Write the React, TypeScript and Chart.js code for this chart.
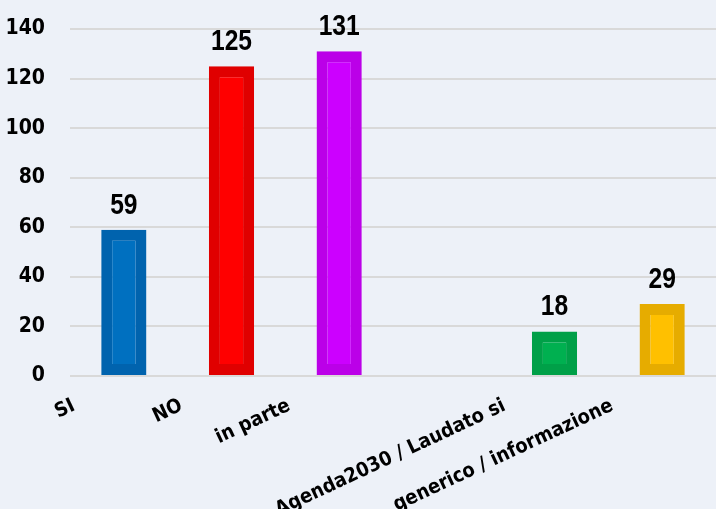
import React, { useEffect, useRef } from "react";
import { Chart, registerables } from "chart.js";

Chart.register(...registerables);

const categories = ["SI", "NO", "in parte", "", "Agenda2030 / Laudato si", "generico / informazione"];
const values: (number | null)[] = [59, 125, 131, null, 18, 29];
const fillColors = ["#0070C0", "#FF0000", "#CC00FF", "#000000", "#00B050", "#FFC000"];
const borderColors = ["#0063AE", "#E00000", "#BB00E8", "#000000", "#00A048", "#E6AC00"];
const yTicks = [0, 20, 40, 60, 80, 100, 120, 140];

const FONT = "'Liberation Sans Narrow', 'DejaVu Sans Condensed', sans-serif";

const valueLabels = {
  id: "valueLabels",
  afterDatasetsDraw(chart: any) {
    const ctx = chart.ctx;
    const meta = chart.getDatasetMeta(0);
    meta.data.forEach((el: any, i: number) => {
      const v = values[i];
      if (v == null) return;
      ctx.save();
      ctx.font = "bold 30px 'Liberation Sans', Arial, sans-serif";
      ctx.fillStyle = "#000000";
      ctx.textAlign = "center";
      ctx.textBaseline = "alphabetic";
      ctx.translate(el.x, el.y - 16);
      ctx.scale(0.82, 1);
      ctx.fillText(String(v), 0, 0);
      ctx.restore();
    });
  },
};

export default function App() {
  const ref = useRef<HTMLCanvasElement>(null);
  useEffect(() => {
    document.body.style.margin = "0";
    const chart = new Chart(ref.current!, {
      type: "bar",
      data: {
        labels: categories,
        datasets: [
          {
            data: values,
            backgroundColor: fillColors,
            borderColor: borderColors,
            borderWidth: 11,
            borderSkipped: false,
            barPercentage: 0.42,
            categoryPercentage: 1,
          },
        ],
      },
      options: {
        animation: false,
        responsive: false,
        maintainAspectRatio: false,
        layout: { padding: { top: 29, right: 0, left: 0, bottom: 0 } },
        plugins: { legend: { display: false }, tooltip: { enabled: false } },
        scales: {
          x: {
            grid: { display: false },
            border: { display: false },
            ticks: {
              color: "#000000",
              font: { family: FONT, size: 20, weight: "bold" },
              minRotation: 25,
              maxRotation: 25,
              autoSkip: false,
              padding: 10,
              labelOffset: -50,
            },
            afterFit: (s: any) => {
              s.height = 133;
              s.paddingLeft = 0;
              s.paddingRight = 0;
            },
          },
          y: {
            min: 0,
            max: 140,
            afterBuildTicks: (s: any) => {
              s.ticks = yTicks.map((v) => ({ value: v }));
            },
            grid: { color: "#D9D9D9", lineWidth: 2, drawTicks: false },
            border: { display: false },
            ticks: {
              color: "#000000",
              font: { family: FONT, size: 21, weight: "bold" },
              padding: 25,
            },
            afterFit: (s: any) => {
              s.width = 70;
              s.paddingTop = 0;
              s.paddingBottom = 0;
            },
          },
        },
      },
      plugins: [valueLabels],
    });
    return () => chart.destroy();
  }, []);
  return (
    <div style={{ position: "fixed", left: 0, top: 0, width: 716, height: 509, background: "#EDF1F8" }}>
      <canvas ref={ref} width={716} height={509} style={{ display: "block" }} />
    </div>
  );
}
